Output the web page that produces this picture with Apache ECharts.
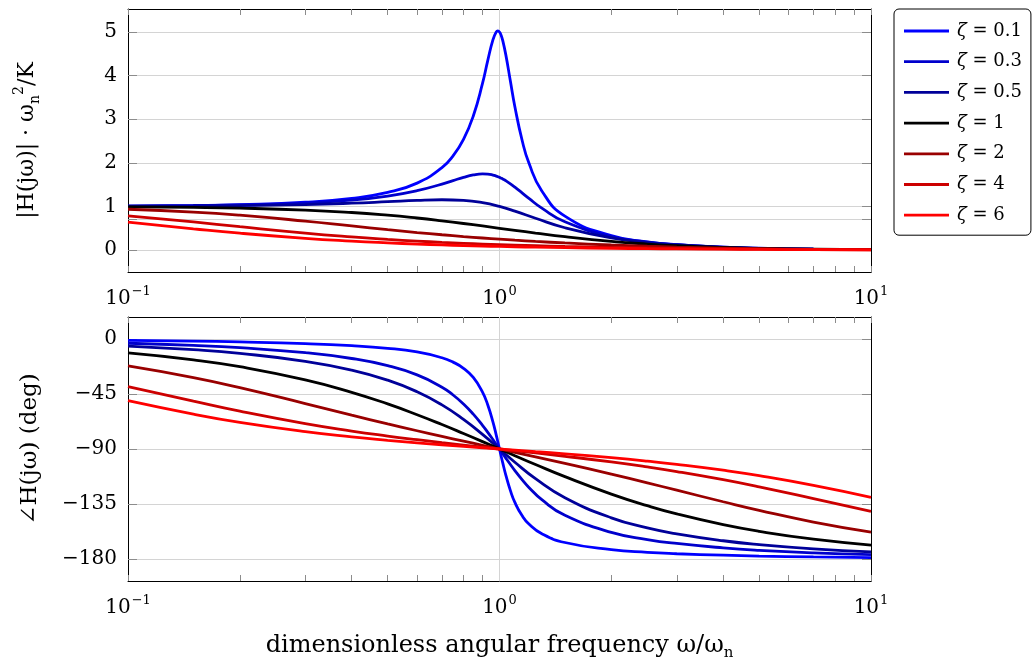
<!DOCTYPE html>
<html>
<head>
<meta charset="utf-8">
<script src="https://cdn.jsdelivr.net/npm/echarts@6/dist/echarts.min.js"></script>
<style>
html,body{margin:0;padding:0;background:#fff;}
#chart{width:1034px;height:662px;}
</style>
</head>
<body>
<div id="chart"></div>
<script>
// ---- data ----
const zetaNames = ['ζ = 0.1', 'ζ = 0.3', 'ζ = 0.5', 'ζ = 1', 'ζ = 2', 'ζ = 4', 'ζ = 6'];
const zetaColors = ['#0000ff', '#0000cc', '#000099', '#000000', '#990000', '#cc0000', '#ff0000'];

// frequency samples (dense near resonance) used by ζ = 0.1 and ζ = 0.3
const omegaFine = [0.1, 0.15, 0.2, 0.3, 0.4, 0.5, 0.6, 0.7, 0.75, 0.8, 0.85, 0.9, 0.93, 0.96, 0.98, 0.99, 1.0, 1.01, 1.02, 1.04, 1.07, 1.1, 1.15, 1.2, 1.3, 1.5, 2, 2.5, 3, 4, 5, 7, 10];
// frequency samples used by the other curves
const omegaCoarse = [0.1, 0.15, 0.2, 0.3, 0.4, 0.5, 0.6, 0.7, 0.8, 0.9, 1.0, 1.1, 1.25, 1.5, 2, 2.5, 3, 4, 5, 7, 10];

const mag01 = [1.0099, 1.0225, 1.0408, 1.0965, 1.1851, 1.3216, 1.5357, 1.8908, 2.1621, 2.5384, 3.0728, 3.8208, 4.3499, 4.8218, 5.0010, 5.0252, 5.0, 4.9261, 4.8086, 4.4756, 3.8694, 3.2880, 2.5245, 1.9952, 1.3562, 0.7779, 0.3304, 0.1896, 0.1247, 0.0666, 0.0416, 0.0208, 0.0101];
const phase01 = [-1.16, -1.76, -2.39, -3.77, -5.44, -7.59, -10.62, -15.35, -18.92, -23.96, -31.49, -43.45, -54.0, -67.8, -78.6, -84.3, -90, -95.7, -101.2, -111.4, -124.1, -133.7, -144.5, -151.4, -159.4, -166.5, -172.4, -174.6, -175.7, -176.9, -177.6, -178.3, -178.8];
const mag03 = [1.0083, 1.0187, 1.0336, 1.0780, 1.1447, 1.2380, 1.3618, 1.5136, 1.5933, 1.6667, 1.7223, 1.7469, 1.7418, 1.7203, 1.6968, 1.6826, 1.6667, 1.6493, 1.6304, 1.5890, 1.5194, 1.4438, 1.3129, 1.1851, 0.9603, 0.6492, 0.3095, 0.1832, 0.1220, 0.0658, 0.0413, 0.0208, 0.0101];
const phase03 = [-3.47, -5.26, -7.13, -11.19, -15.95, -21.80, -29.36, -39.47, -45.81, -53.13, -61.45, -70.62, -76.39, -82.25, -86.15, -88.08, -90, -91.90, -93.78, -97.45, -102.7, -107.65, -115.05, -121.43, -131.5, -144.25, -158.2, -164.05, -167.3, -170.9, -172.9, -175.0, -176.5];
const mag05 = [1.0050, 1.0112, 1.0198, 1.0436, 1.0748, 1.1094, 1.1399, 1.1546, 1.1399, 1.0871, 1.0, 0.8930, 0.7295, 0.5121, 0.2774, 0.1720, 0.1170, 0.0644, 0.0408, 0.0206, 0.0101];
const phase05 = [-5.77, -8.72, -11.77, -18.25, -25.46, -33.69, -43.15, -53.92, -65.77, -78.08, -90, -100.81, -114.23, -129.81, -146.31, -154.54, -159.44, -165.07, -168.23, -171.7, -174.23];
const mag1 = [0.9901, 0.9780, 0.9615, 0.9174, 0.8621, 0.8, 0.7353, 0.6711, 0.6098, 0.5525, 0.5, 0.4525, 0.3902, 0.3077, 0.2, 0.1379, 0.1, 0.0588, 0.0385, 0.02, 0.0099];
const phase1 = [-11.42, -17.06, -22.62, -33.40, -43.60, -53.13, -61.93, -69.98, -77.32, -83.97, -90, -95.45, -102.68, -112.62, -126.87, -136.4, -143.13, -151.93, -157.38, -163.74, -168.58];
const mag2 = [0.9365, 0.8719, 0.8002, 0.6640, 0.5534, 0.4682, 0.4026, 0.3514, 0.3105, 0.2774, 0.25, 0.2270, 0.1987, 0.1632, 0.1170, 0.0885, 0.0693, 0.0456, 0.0320, 0.0180, 0.0094];
const phase2 = [-22.0, -31.54, -39.81, -52.83, -62.30, -69.44, -75.07, -79.68, -83.58, -86.98, -90, -92.73, -96.42, -101.77, -110.56, -117.7, -123.69, -133.15, -140.19, -149.74, -158.0];
const mag4 = [0.7857, 0.6461, 0.5359, 0.3896, 0.3023, 0.2457, 0.2065, 0.1778, 0.1560, 0.1388, 0.125, 0.1136, 0.0998, 0.0829, 0.0614, 0.0484, 0.0395, 0.0283, 0.0214, 0.0136, 0.0079];
const phase4 = [-38.94, -50.83, -59.04, -69.23, -75.29, -79.38, -82.41, -84.80, -86.78, -88.49, -90, -91.37, -93.22, -95.95, -100.62, -104.71, -108.43, -115.11, -120.96, -130.6, -141.06];
const mag6 = [0.6428, 0.4882, 0.3869, 0.2693, 0.2052, 0.1654, 0.1383, 0.1188, 0.1041, 0.0926, 0.0833, 0.0758, 0.0666, 0.0554, 0.0413, 0.0328, 0.0271, 0.0199, 0.0155, 0.0103, 0.0064];
const phase6 = [-50.48, -61.50, -68.20, -75.81, -80.07, -82.87, -84.92, -86.53, -87.85, -88.99, -90, -90.91, -92.15, -93.97, -97.13, -99.93, -102.53, -107.35, -111.8, -119.74, -129.52];

// tick labels / tick values
const magTickValues = [0, 0.707, 1, 2, 3, 4, 5];
const magLabelValues = [0, 1, 2, 3, 4, 5];
const phaseTickValues = [-180, -135, -90, -45, 0];
const freqDecades = [0.1, 1];
const freqMultipliers = [1, 2, 3, 4, 5, 6, 7, 8, 9];
const freqLabelValues = [0.1, 1, 10];
const freqGridValues = [1];

// ---- build ----
const omegaOf = [omegaFine, omegaFine, omegaCoarse, omegaCoarse, omegaCoarse, omegaCoarse, omegaCoarse];
const magOf = [mag01, mag03, mag05, mag1, mag2, mag4, mag6];
const phaseOf = [phase01, phase03, phase05, phase1, phase2, phase4, phase6];

// all (major + minor) tick values of the log frequency axis
const freqTicks = [];
freqDecades.forEach(d => freqMultipliers.forEach(m => freqTicks.push(+(d * m).toPrecision(3))));
freqTicks.push(10);

const FONT = 'DejaVu Serif';
const TICKCOL = '#8c8c8c';
const GRIDCOL = '#d4d4d4';
const frame = () => ({ show: true, onZero: false, lineStyle: { color: '#000', width: 1 } });
const ticks = (vals, len) => ({ show: true, inside: true, length: len, customValues: vals, lineStyle: { color: TICKCOL, width: 1 } });

function sup(v) {
  const e = Math.round(Math.log10(v));
  return '10{sup|' + (e < 0 ? '−' + (-e) : e) + '}';
}

const grids = [
  { left: 128, top: 9, width: 743, height: 263 },
  { left: 128, top: 317, width: 743, height: 264 }
];

const xAxes = [];
const yAxes = [];
[0, 1].forEach(g => {
  xAxes.push({
    type: 'log', logBase: 10, gridIndex: g, min: 0.1, max: 10, position: 'bottom',
    axisLine: frame(),
    axisTick: ticks(freqTicks, 6),
    minorTick: { show: false },
    splitLine: { show: false },
    axisLabel: {
      customValues: freqLabelValues,
      formatter: sup, fontSize: 20, fontFamily: FONT, color: '#000', margin: 13,
      lineHeight: 28,
      rich: { sup: { fontSize: 13, fontFamily: FONT, color: '#000', verticalAlign: 'top', padding: [0, 0, 0, 1] } }
    },
    name: g === 1 ? 'dimensionless angular frequency ω/ω{sub|n}' : '',
    nameLocation: 'middle', nameGap: 50,
    nameTextStyle: {
      fontSize: 24, fontFamily: FONT, color: '#000', lineHeight: 30,
      rich: { sub: { fontSize: 15, fontFamily: FONT, color: '#000', verticalAlign: 'bottom' } }
    }
  });
  xAxes.push({
    type: 'log', logBase: 10, gridIndex: g, min: 0.1, max: 10, position: 'top',
    axisLine: frame(), axisLabel: { show: false }, splitLine: { show: false }, minorTick: { show: false },
    axisTick: ticks(freqTicks, 6)
  });
});

const minusFmt = v => String(v).replace('-', '−');
yAxes.push({
  type: 'value', gridIndex: 0, min: -0.5025, max: 5.5275, position: 'left',
  axisLine: frame(),
  axisTick: ticks(magTickValues, 9),
  axisLabel: { customValues: magLabelValues, fontSize: 20, fontFamily: FONT, color: '#000', margin: 11 },
  splitLine: { show: true, lineStyle: { color: GRIDCOL, width: 1 } },
  name: '|H(jω)| · ω{sub|n}{sup|2}/K', nameLocation: 'middle', nameRotate: 90, nameGap: 86,
  nameTextStyle: {
    fontSize: 22, fontFamily: FONT, color: '#000', lineHeight: 30,
    rich: {
      sub: { fontSize: 14, fontFamily: FONT, color: '#000', verticalAlign: 'bottom' },
      sup: { fontSize: 14, fontFamily: FONT, color: '#000', verticalAlign: 'top' }
    }
  }
});
yAxes.push({
  type: 'value', gridIndex: 0, min: -0.5025, max: 5.5275, position: 'right',
  axisLine: frame(), axisLabel: { show: false }, splitLine: { show: false },
  axisTick: ticks(magTickValues, 9)
});
yAxes.push({
  type: 'value', gridIndex: 1, min: -198, max: 18, position: 'left',
  axisLine: frame(),
  axisTick: ticks(phaseTickValues, 9),
  axisLabel: { customValues: phaseTickValues, formatter: minusFmt, fontSize: 20, fontFamily: FONT, color: '#000', margin: 11 },
  splitLine: { show: true, lineStyle: { color: GRIDCOL, width: 1 } },
  name: '∠H(jω) (deg)', nameLocation: 'middle', nameRotate: 90, nameGap: 86,
  nameTextStyle: { fontSize: 23, fontFamily: FONT, color: '#000' }
});
yAxes.push({
  type: 'value', gridIndex: 1, min: -198, max: 18, position: 'right',
  axisLine: frame(), axisLabel: { show: false }, splitLine: { show: false },
  axisTick: ticks(phaseTickValues, 9)
});

// vertical major grid line (ω/ωn = 1), drawn under the curves
const gridMarkLine = () => ({
  silent: true, symbol: 'none', z: 1, animation: false,
  label: { show: false },
  lineStyle: { color: GRIDCOL, width: 1, type: 'solid' },
  emphasis: { disabled: true },
  data: freqGridValues.map(v => ({ xAxis: v }))
});

const series = [];
zetaNames.forEach((name, i) => {
  const common = {
    name, type: 'line', smooth: true, symbol: 'none', clip: true, z: 3,
    lineStyle: { width: 2.8, color: zetaColors[i] }, itemStyle: { color: zetaColors[i] },
    emphasis: { disabled: true }, animation: false
  };
  series.push(Object.assign({}, common, {
    xAxisIndex: 0, yAxisIndex: 0,
    data: omegaOf[i].map((w, k) => [w, magOf[i][k]]),
    markLine: i === 0 ? gridMarkLine() : undefined
  }));
  series.push(Object.assign({}, common, {
    xAxisIndex: 2, yAxisIndex: 2,
    data: omegaOf[i].map((w, k) => [w, phaseOf[i][k]]),
    markLine: i === 0 ? gridMarkLine() : undefined
  }));
});

const chart = echarts.init(document.getElementById('chart'), null, { renderer: 'canvas' });
chart.setOption({
  backgroundColor: '#fff',
  animation: false,
  grid: grids.map(g => Object.assign({ show: false }, g)),
  xAxis: xAxes,
  yAxis: yAxes,
  legend: {
    data: zetaNames, orient: 'vertical', left: 894, top: 9,
    padding: [11, 9, 9, 10], itemWidth: 45, itemHeight: 14, itemGap: 8.7,
    borderColor: '#000', borderWidth: 1, borderRadius: 5,
    icon: 'path://M0,0 L45,0 L45,2.8 L0,2.8 Z',
    selectedMode: false,
    formatter: n => '{gap|}' + n.replace('ζ', '{z|ζ}'),
    textStyle: {
      fontSize: 18, fontFamily: FONT, color: '#000', lineHeight: 22,
      rich: {
        gap: { width: 3 },
        z: { fontSize: 18, fontFamily: FONT, fontStyle: 'italic', color: '#000' }
      }
    }
  },
  series
});
</script>
</body>
</html>
